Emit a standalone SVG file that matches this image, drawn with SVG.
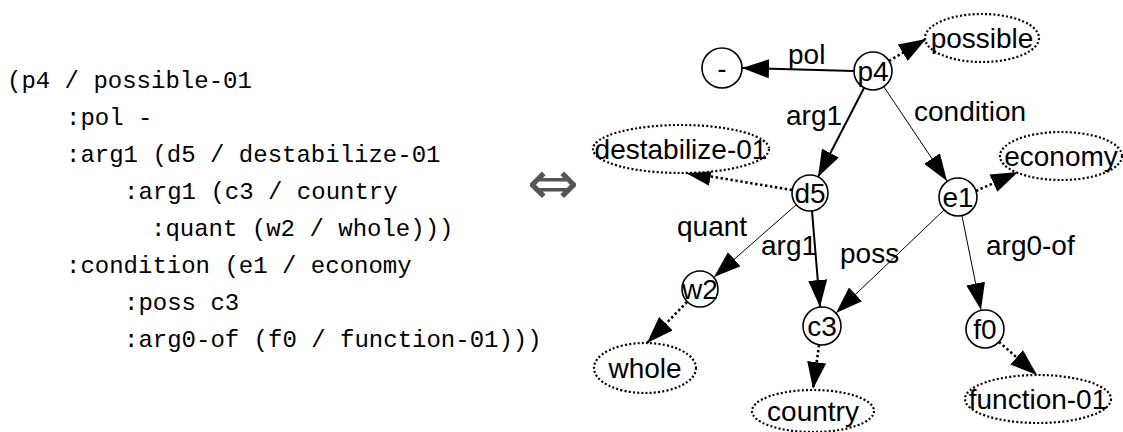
<svg xmlns="http://www.w3.org/2000/svg" width="1123" height="432" viewBox="0 0 1123 432">
  <defs>
    <marker id="head" markerUnits="userSpaceOnUse" markerWidth="28" markerHeight="19" refX="27" refY="9.5" orient="auto">
      <path d="M0,0 L27,9.5 L0,19 z" fill="#000" stroke="none"/>
    </marker>
  </defs>
  <style>
    .code { font-family: "Liberation Mono", "DejaVu Sans Mono", monospace; font-size: 24px; fill: #000; }
    .lbl { font-family: "Liberation Sans", Arial, sans-serif; font-size: 28px; fill: #000; }
    .nlbl { font-family: "Liberation Sans", Arial, sans-serif; font-size: 28px; fill: #000; text-anchor: middle; }
    .var { fill: #fff; stroke: #000; stroke-width: 1.6; }
    .concept { fill: #fff; stroke: #000; stroke-width: 2.2; stroke-dasharray: 2 2.2; }
    .thick { fill: none; stroke: #000; stroke-width: 2; marker-end: url(#head); }
    .thin { fill: none; stroke: #000; stroke-width: 1; marker-end: url(#head); }
    .inst { fill: none; stroke: #000; stroke-width: 2.6; stroke-dasharray: 2.4 2.6; marker-end: url(#head); }
  </style>
  <rect width="1123" height="432" fill="#fff"/>

  <!-- PENMAN notation -->
  <g id="penman">
    <text class="code" x="7" y="88">(p4 / possible-01</text>
    <text class="code" x="66" y="125">:pol -</text>
    <text class="code" x="66" y="162">:arg1 (d5 / destabilize-01</text>
    <text class="code" x="124" y="199">:arg1 (c3 / country</text>
    <text class="code" x="151" y="236">:quant (w2 / whole)))</text>
    <text class="code" x="66" y="273">:condition (e1 / economy</text>
    <text class="code" x="124" y="310">:poss c3</text>
    <text class="code" x="124" y="347">:arg0-of (f0 / function-01)))</text>
  </g>

  <!-- equivalence sign -->
  <g id="equiv">
    <text x="553" y="204" font-family="DejaVu Sans, sans-serif" font-size="62" fill="#555" text-anchor="middle">⇔</text>
  </g>

  <!-- relations -->
  <g id="connectors">
    <line class="thick" x1="854" y1="71" x2="742" y2="68"/>
    <line class="inst" x1="889" y1="61" x2="926" y2="39"/>
    <line class="thick" x1="864" y1="88" x2="818" y2="177"/>
    <line class="thin" x1="884" y1="87" x2="947" y2="181"/>
    <line class="inst" x1="792" y1="190" x2="684" y2="172"/>
    <line class="thin" x1="796" y1="205" x2="714" y2="277"/>
    <line class="thick" x1="812" y1="211" x2="820" y2="307"/>
    <line class="thin" x1="944" y1="210" x2="836" y2="313"/>
    <line class="inst" x1="976" y1="191" x2="1018" y2="172"/>
    <line class="thin" x1="962" y1="216" x2="981" y2="310"/>
    <line class="inst" x1="687" y1="302" x2="647" y2="343"/>
    <line class="inst" x1="819" y1="345" x2="813" y2="389"/>
    <line class="inst" x1="999" y1="342" x2="1037" y2="375"/>

    <text class="lbl" x="788" y="64">pol</text>
    <text class="lbl" x="786" y="125">arg1</text>
    <text class="lbl" x="914" y="121">condition</text>
    <text class="lbl" x="677" y="236">quant</text>
    <text class="lbl" x="761" y="255">arg1</text>
    <text class="lbl" x="840" y="263">poss</text>
    <text class="lbl" x="986" y="255">arg0-of</text>
  </g>

  <!-- variables -->
  <g id="node-minus">
    <circle class="var" cx="722" cy="68" r="20"/>
    <text class="nlbl" x="722" y="78">-</text>
  </g>
  <g id="node-p4">
    <circle class="var" cx="873" cy="71" r="19"/>
    <text class="nlbl" x="873" y="81">p4</text>
  </g>
  <g id="node-d5">
    <circle class="var" cx="810" cy="193" r="18"/>
    <text class="nlbl" x="810" y="203">d5</text>
  </g>
  <g id="node-e1">
    <circle class="var" cx="958" cy="197" r="19"/>
    <text class="nlbl" x="958" y="207">e1</text>
  </g>
  <g id="node-w2">
    <circle class="var" cx="700" cy="289" r="18"/>
    <text class="nlbl" x="700" y="299">w2</text>
  </g>
  <g id="node-c3">
    <circle class="var" cx="822" cy="326" r="19"/>
    <text class="nlbl" x="822" y="336">c3</text>
  </g>
  <g id="node-f0">
    <circle class="var" cx="985" cy="329" r="19"/>
    <text class="nlbl" x="985" y="339">f0</text>
  </g>

  <!-- concepts -->
  <g id="node-possible">
    <ellipse class="concept" cx="982" cy="38" rx="57" ry="24"/>
    <text class="nlbl" x="982" y="48">possible</text>
  </g>
  <g id="node-destabilize">
    <ellipse class="concept" cx="681" cy="149" rx="88" ry="24"/>
    <text class="nlbl" x="681" y="159">destabilize-01</text>
  </g>
  <g id="node-economy">
    <ellipse class="concept" cx="1061" cy="156" rx="61" ry="24"/>
    <text class="nlbl" x="1061" y="166">economy</text>
  </g>
  <g id="node-whole">
    <ellipse class="concept" cx="645" cy="368" rx="51" ry="25"/>
    <text class="nlbl" x="645" y="378">whole</text>
  </g>
  <g id="node-country">
    <ellipse class="concept" cx="813" cy="411" rx="61" ry="21"/>
    <text class="nlbl" x="813" y="421">country</text>
  </g>
  <g id="node-function">
    <ellipse class="concept" cx="1038" cy="399" rx="73" ry="24"/>
    <text class="nlbl" x="1038" y="409">function-01</text>
  </g>
</svg>
